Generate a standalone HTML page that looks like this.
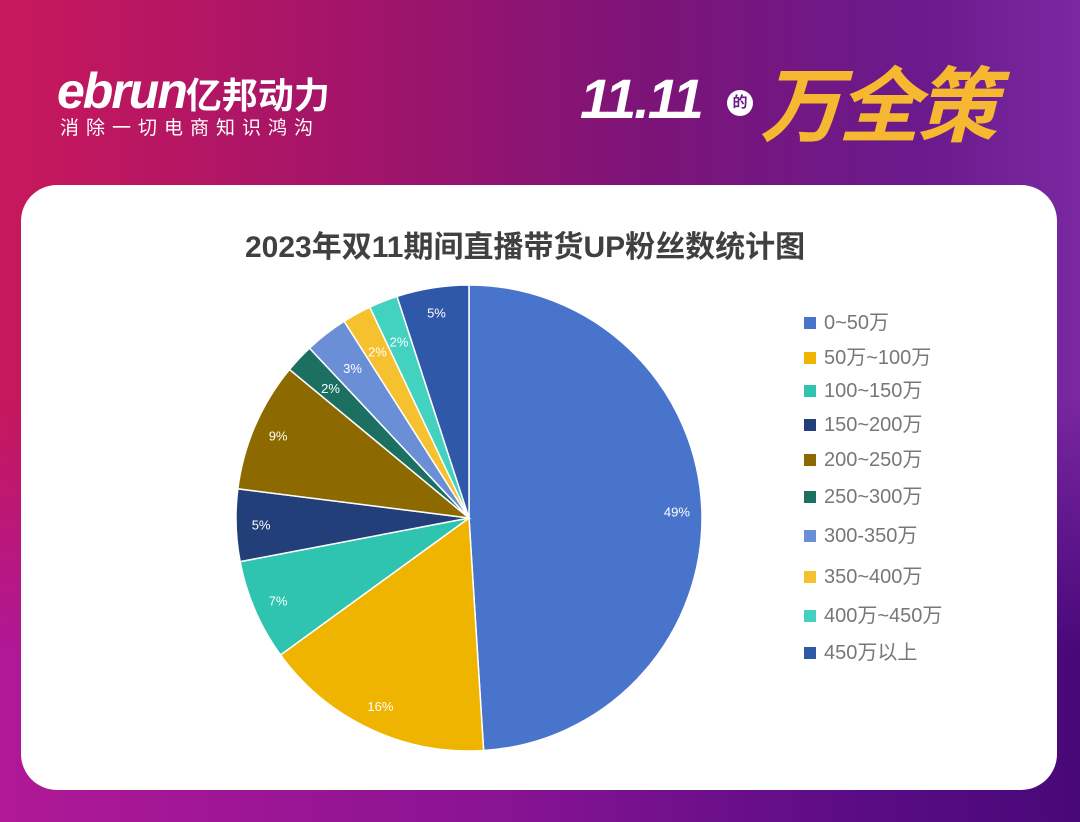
<!DOCTYPE html>
<html><head><meta charset="utf-8"><style>
body{margin:0;width:1080px;height:822px;overflow:hidden;font-family:"Liberation Sans","Noto Sans CJK SC",sans-serif;}
#bg{position:absolute;left:0;top:0;width:1080px;height:822px;background:linear-gradient(90deg,#c8185c 0%,#a0146a 35%,#7c1478 60%,#6a1a8c 85%,#7a28a0 100%);}
#bg2{position:absolute;left:0;top:400px;width:1080px;height:422px;background:linear-gradient(90deg,#b01896 0%,#8a1494 45%,#5a0c84 80%,#480878 100%);-webkit-mask-image:linear-gradient(180deg,transparent 0%,#000 60%);mask-image:linear-gradient(180deg,transparent 0%,#000 60%);}
#card{position:absolute;left:21px;top:185px;width:1036px;height:605px;background:#fff;border-radius:36px;}
.t{position:absolute;color:#fff;}
.lg div{position:absolute;white-space:nowrap;left:0}
.lg span{display:inline-block;width:12px;height:12px;margin-right:8px}
</style></head><body>
<div id="bg"></div><div id="bg2"></div>
<div class="t" style="left:57px;top:62px;font-size:50px;font-weight:bold;letter-spacing:-2px;font-style:italic">ebrun<span style="font-size:36px;font-style:normal;letter-spacing:0">亿邦动力</span></div>
<div class="t" style="left:60px;top:113px;font-size:19px;letter-spacing:7px">消除一切电商知识鸿沟</div>
<div class="t" style="left:580px;top:66px;font-size:56px;font-weight:bold;font-style:italic;letter-spacing:-2px">11.11</div>
<div style="position:absolute;left:727px;top:90px;width:26px;height:26px;border-radius:13px;background:#fff;color:#6a1a8a;font-size:15px;font-weight:bold;text-align:center;line-height:26px">的</div>
<div class="t" style="left:760px;top:40px;font-size:82px;font-weight:bold;font-style:italic;color:#f5b830;letter-spacing:-4px">万全策</div>
<div id="card"></div>
<div style="position:absolute;left:245px;top:222px;white-space:nowrap;font-size:30px;font-weight:bold;color:#404040">2023年双11期间直播带货UP粉丝数统计图</div>
<svg id="pie" width="1080" height="822" style="position:absolute;left:0;top:0"></svg>
<div class="lg" style="position:absolute;left:804px;top:306px;font-size:20px;color:#777">
<div style="top:0"><span style="background:#4874cb"></span>0~50万</div>
<div style="top:35px"><span style="background:#eeb400"></span>50万~100万</div>
<div style="top:68px"><span style="background:#2ec4b0"></span>100~150万</div>
<div style="top:102px"><span style="background:#233f7a"></span>150~200万</div>
<div style="top:137px"><span style="background:#8c6a00"></span>200~250万</div>
<div style="top:174px"><span style="background:#1c7062"></span>250~300万</div>
<div style="top:213px"><span style="background:#6b8fd6"></span>300-350万</div>
<div style="top:254px"><span style="background:#f5c12e"></span>350~400万</div>
<div style="top:293px"><span style="background:#43d1c0"></span>400万~450万</div>
<div style="top:330px"><span style="background:#3058a8"></span>450万以上</div>
</div>
<script>
var d=[[49,"#4874cb"],[16,"#eeb400"],[7,"#2ec4b0"],[5,"#233f7a"],[9,"#8c6a00"],[2,"#1c7062"],[3,"#6b8fd6"],[2,"#f5c12e"],[2,"#43d1c0"],[5,"#3058a8"]];
var cx=469,cy=518,r=233,a=0,s="";
function pt(ang,rr){return [cx+rr*Math.sin(ang),cy-rr*Math.cos(ang)];}
d.forEach(function(e){var a0=a,a1=a+e[0]/100*2*Math.PI;a=a1;var p0=pt(a0,r),p1=pt(a1,r);
s+='<path d="M'+cx+','+cy+'L'+p0[0]+','+p0[1]+'A'+r+','+r+' 0 '+((a1-a0)>Math.PI?1:0)+' 1 '+p1[0]+','+p1[1]+'Z" fill="'+e[1]+'" stroke="#fff" stroke-width="1.5"/>';
var m=pt((a0+a1)/2,e[0]<4?190:208);
s+='<text x="'+m[0]+'" y="'+(m[1]+5)+'" fill="#fff" font-size="13" text-anchor="middle" font-family="Liberation Sans">'+e[0]+'%</text>';});
document.getElementById('pie').innerHTML=s;
</script>
</body></html>
